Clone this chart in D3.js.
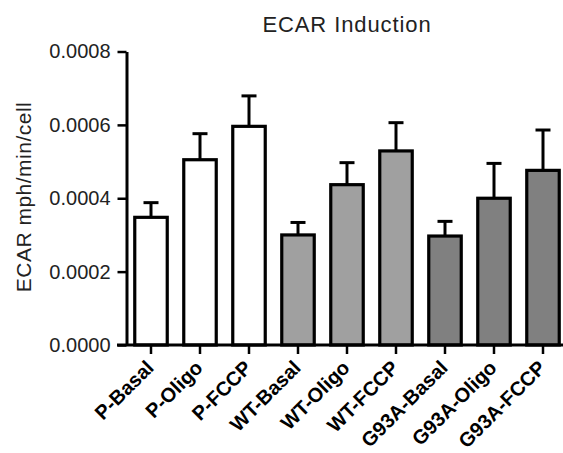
<!DOCTYPE html>
<html><head><meta charset="utf-8">
<script src="https://cdn.jsdelivr.net/npm/d3@7"></script>
<style>body{margin:0;background:#fff}svg{display:block}</style>
</head><body>
<svg id="c" width="563" height="453"></svg>
<script>
const categories = ["P-Basal","P-Oligo","P-FCCP","WT-Basal","WT-Oligo","WT-FCCP","G93A-Basal","G93A-Oligo","G93A-FCCP"];
const values = [0.000348,0.000505,0.000596,0.000300,0.000437,0.000529,0.000297,0.000400,0.000476];
const errors = [0.000040,0.000071,0.000083,0.000034,0.000060,0.000077,0.000040,0.000095,0.000110];
const groups = ["P","P","P","WT","WT","WT","G93A","G93A","G93A"];
const yTicks = [0,0.0002,0.0004,0.0006,0.0008];
const yTickLabels = ["0.0000","0.0002","0.0004","0.0006","0.0008"];
const title = "ECAR Induction";
const yLabel = "ECAR mph/min/cell";
const groupColors = {P:"#ffffff", WT:"#a0a0a0", G93A:"#808080"};

const svg = d3.select("#c");
const font = "Arial, 'Liberation Sans', sans-serif";
const x0 = 126.5, x1 = 567.5;
const x = d3.scaleBand().domain(categories).range([x0, x1]).paddingInner(0.337).paddingOuter(0.337/2);
const y = d3.scaleLinear().domain([0, 0.0008]).range([345, 51.5]);

// y axis
const yAxis = svg.append("g").attr("transform", `translate(${x0},0)`)
  .call(d3.axisLeft(y).tickValues(yTicks).tickFormat((d,i)=>yTickLabels[i]).tickSize(9).tickSizeOuter(0).tickPadding(7));
yAxis.select(".domain").attr("stroke-width", 3).attr("stroke", "#000");
yAxis.selectAll(".tick line").attr("stroke-width", 2.5).attr("stroke", "#000");
yAxis.selectAll(".tick text").attr("font-family", font).attr("font-size", 20).attr("fill", "#222");

// error bars
const capW = 15;
const eb = svg.append("g");
categories.forEach((c, i) => {
  const cx = x(c) + x.bandwidth()/2;
  eb.append("line").attr("x1", cx).attr("x2", cx).attr("y1", y(values[i])).attr("y2", y(values[i] + errors[i]))
    .attr("stroke", "#000").attr("stroke-width", 3);
  eb.append("line").attr("x1", cx - capW/2).attr("x2", cx + capW/2).attr("y1", y(values[i] + errors[i])).attr("y2", y(values[i] + errors[i]))
    .attr("stroke", "#000").attr("stroke-width", 3);
});

// bars
svg.append("g").selectAll("rect").data(categories).join("rect")
  .attr("x", d => x(d)).attr("width", x.bandwidth())
  .attr("y", (d,i) => y(values[i])).attr("height", (d,i) => y(0) - y(values[i]))
  .attr("fill", (d,i) => groupColors[groups[i]]).attr("stroke", "#000").attr("stroke-width", 3.2);

// x axis
const xAxis = svg.append("g").attr("transform", `translate(0,${y(0)})`)
  .call(d3.axisBottom(x).tickSize(9).tickSizeOuter(0).tickFormat(""));
xAxis.select(".domain").remove();
xAxis.selectAll(".tick line").attr("stroke-width", 2.5).attr("stroke", "#000");
svg.append("line").attr("x1", 117).attr("x2", 563).attr("y1", y(0)).attr("y2", y(0)).attr("stroke", "#000").attr("stroke-width", 3);

// x labels
svg.append("g").selectAll("text").data(categories).join("text")
  .attr("transform", d => `translate(${x(d) + x.bandwidth()/2 + 4},369) rotate(-45)`)
  .attr("text-anchor", "end").attr("font-family", font).attr("font-weight", "bold").attr("font-size", 20)
  .attr("fill", "#000").text(d => d);

// title
svg.append("text").attr("x", 347).attr("y", 32).attr("text-anchor", "middle")
  .attr("font-family", font).attr("font-size", 22).attr("letter-spacing", 0.9).attr("fill", "#222").text(title);

// y label
svg.append("text").attr("transform", `translate(31,197) rotate(-90)`).attr("text-anchor", "middle")
  .attr("font-family", font).attr("font-size", 21).attr("letter-spacing", 0.5).attr("fill", "#222").text(yLabel);
</script>
</body></html>
